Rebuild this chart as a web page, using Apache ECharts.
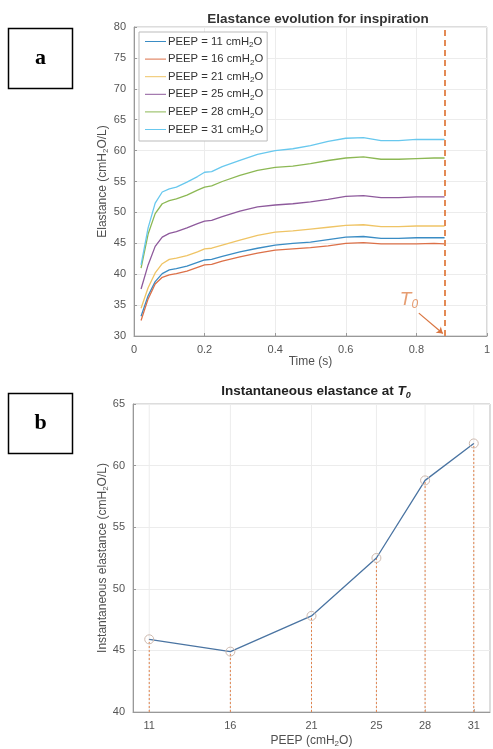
<!DOCTYPE html>
<html><head><meta charset="utf-8">
<script src="https://cdn.jsdelivr.net/npm/echarts@6/dist/echarts.min.js"></script>
<style>html,body{margin:0;padding:0;background:#fff}#c{width:493px;height:749px}</style>
</head><body><div id="c"></div>
<script>
// ---- Data (panel a) ----
const time = [0.02,0.04,0.06,0.08,0.10,0.12,0.15,0.18,0.20,0.22,0.25,0.30,0.35,0.40,0.45,0.50,0.55,0.60,0.65,0.70,0.75,0.80,0.85,0.88];
const peepLabels = ['PEEP = 11 cmH2O','PEEP = 16 cmH2O','PEEP = 21 cmH2O','PEEP = 25 cmH2O','PEEP = 28 cmH2O','PEEP = 31 cmH2O'];
const e11 = [33.2,36.5,38.8,40.1,40.7,40.9,41.3,41.9,42.3,42.4,42.9,43.6,44.2,44.7,45.0,45.2,45.6,46.0,46.1,45.8,45.8,45.9,45.9,45.9];
const e16 = [32.5,36.0,38.4,39.5,39.9,40.1,40.5,41.1,41.5,41.6,42.1,42.8,43.4,43.9,44.1,44.3,44.6,45.0,45.1,44.9,44.9,44.9,45.0,44.9];
const e21 = [34.5,37.8,40.2,41.7,42.4,42.6,43.0,43.6,44.1,44.2,44.7,45.5,46.3,46.8,47.0,47.3,47.6,47.9,48.0,47.7,47.7,47.8,47.8,47.8];
const e25 = [37.6,41.5,44.5,46.0,46.6,46.9,47.5,48.2,48.6,48.7,49.3,50.2,50.9,51.2,51.4,51.7,52.1,52.6,52.7,52.4,52.4,52.5,52.5,52.5];
const e28 = [41.0,46.5,49.8,51.4,51.9,52.2,52.8,53.6,54.1,54.3,55.0,56.0,56.8,57.3,57.5,57.9,58.4,58.8,59.0,58.6,58.6,58.7,58.8,58.8];
const e31 = [41.5,47.5,51.5,53.3,53.8,54.1,54.9,55.8,56.5,56.6,57.4,58.4,59.4,60.0,60.3,60.8,61.5,62.0,62.1,61.6,61.6,61.8,61.8,61.8];
const T0 = 0.88;
const arrowFrom = [0.807, 33.7];
const arrowTo = [0.875, 30.4];
const t0LabelPos = [0.779, 35.8];
// ---- Data (panel b) ----
const peep = [11,16,21,25,28,31];
const elastT0 = [45.9,44.9,47.8,52.5,58.8,61.8];
const yMinB = 40, yMaxB = 65;

const colors = ['#3a8cc4','#dc7048','#efc465','#8e5a9c','#8cb854','#68c8ee'];
const allE = [e11,e16,e21,e25,e28,e31];
const txt = '#505050';
const sub = {fontSize: 8, padding:[7,0,0,0], color: txt};
const axisLbl = {color: '#555', fontSize: 11, fontFamily: 'Liberation Sans'};

const seriesA = allE.map((arr,i)=>({
  name: peepLabels[i], type:'line', xAxisIndex:0, yAxisIndex:0,
  data: time.map((t,k)=>[t,arr[k]]), showSymbol:false, symbol:'none',
  lineStyle:{width:1.3,color:colors[i]}, itemStyle:{color:colors[i]}, z:3
}));
seriesA.push({
  type:'line', xAxisIndex:0, yAxisIndex:0, data:[], silent:true,
  markLine:{symbol:'none', silent:true, label:{show:false},
    lineStyle:{color:'#e38a55', type:[6,4], width:2},
    data:[{xAxis:T0}]}
});
seriesA.push({
  type:'line', xAxisIndex:0, yAxisIndex:0, data:[], silent:true,
  markLine:{symbol:['none','arrow'], symbolSize:6, silent:true, label:{show:false},
    lineStyle:{color:'#d9743f', type:'solid', width:1.2},
    data:[[{coord:arrowFrom},{coord:arrowTo}]]}
});
seriesA.push({
  type:'scatter', xAxisIndex:0, yAxisIndex:0, data:[t0LabelPos], symbolSize:0, silent:true,
  label:{show:true, position:'inside', formatter:'{t|T}{s|0}',
    rich:{t:{fontSize:19, fontStyle:'italic', color:'#e0844f', fontFamily:'Liberation Sans'},
          s:{fontSize:12, fontStyle:'italic', color:'#e0844f', padding:[9,0,0,0], fontFamily:'Liberation Sans'}}}
});

const seriesB = [];
peep.forEach((p,i)=>{
  seriesB.push({type:'line', xAxisIndex:1, yAxisIndex:1, data:[[p,yMinB],[p,yMaxB]], symbol:'none', silent:true, z:1,
    lineStyle:{color:'#ececec', width:1}});
  seriesB.push({type:'line', xAxisIndex:1, yAxisIndex:1, data:[[p,yMinB],[p,elastT0[i]]], symbol:'none', silent:true, z:2,
    lineStyle:{color:'#e0844f', width:1, type:[2,2]}});
});
seriesB.push({
  type:'line', xAxisIndex:1, yAxisIndex:1, data: peep.map((p,i)=>[p,elastT0[i]]),
  symbol:'circle', symbolSize:9, showSymbol:true,
  lineStyle:{color:'#4a74a2', width:1.3},
  itemStyle:{color:'rgba(255,255,255,0)', borderColor:'#cdb9ae', borderWidth:1},
  z:4
});

const chart = echarts.init(document.getElementById('c'), null, {renderer:'canvas'});
chart.setOption({
  animation:false,
  textStyle:{fontFamily:'Liberation Sans'},
  title:[
    {text:'Elastance evolution for inspiration', left:313, top:7, textAlign:'center',
     textStyle:{fontSize:13.5, fontWeight:'bold', color:'#333', fontFamily:'Liberation Sans'}},
    {text:'{a|Instantaneous elastance at }{t|T}{s|0}', left:311, top:378, textAlign:'center',
     textStyle:{rich:{
       a:{fontSize:13.5, fontWeight:'bold', color:'#222', fontFamily:'Liberation Sans'},
       t:{fontSize:13.5, fontWeight:'bold', fontStyle:'italic', color:'#222', fontFamily:'Liberation Sans'},
       s:{fontSize:9, fontWeight:'bold', fontStyle:'italic', color:'#222', padding:[8,0,0,0], fontFamily:'Liberation Sans'}}}}
  ],
  legend:{
    orient:'vertical', left:139, top:32, data:peepLabels,
    backgroundColor:'#fff', borderColor:'#bbb', borderWidth:1,
    padding:[4,4,4,6], itemGap:4.6, itemWidth:21, itemHeight:13,
    icon:'path://M0,6 L21,6 L21,7 L0,7 Z',
    formatter: n => n.replace('cmH2O','cmH{s|2}O'),
    textStyle:{color:'#333', fontSize:11.3, fontFamily:'Liberation Sans', padding:[0,0,0,-3], rich:{s:{fontSize:8, color:'#333', padding:[7,0,0,0]}}}
  },
  grid:[
    {left:134, top:27, width:357, height:309, show:true, borderColor:'#bbb', borderWidth:1},
    {left:133, top:404, width:357, height:308, show:true, borderColor:'#bbb', borderWidth:1}
  ],
  xAxis:[
    {type:'value', gridIndex:0, min:0, max:1, interval:0.2,
     name:'Time (s)', nameLocation:'middle', nameGap:19,
     nameTextStyle:{color:txt, fontSize:12, fontFamily:'Liberation Sans'},
     axisLine:{lineStyle:{color:'#999'}}, axisTick:{inside:true, length:3, lineStyle:{color:'#999'}},
     axisLabel:axisLbl, splitLine:{show:true, lineStyle:{color:'#ececec'}}},
    {type:'value', gridIndex:1, min:10, max:32,
     name:'{a|PEEP (cmH}{s|2}{a|O)}', nameLocation:'middle', nameGap:21,
     nameTextStyle:{rich:{a:{color:txt, fontSize:12, fontFamily:'Liberation Sans'}, s:sub}},
     axisLine:{lineStyle:{color:'#999'}}, axisTick:{inside:true, length:3, customValues:peep, lineStyle:{color:'#999'}},
     axisLabel:Object.assign({customValues:peep}, axisLbl), splitLine:{show:false}}
  ],
  yAxis:[
    {type:'value', gridIndex:0, min:30, max:80, interval:5,
     name:'{a|Elastance (cmH}{s|2}{a|O/L)}', nameLocation:'middle', nameGap:24, nameMoveOverlap:false,
     nameTextStyle:{rich:{a:{color:txt, fontSize:12, fontFamily:'Liberation Sans'}, s:sub}},
     axisLine:{show:true, lineStyle:{color:'#999'}}, axisTick:{show:true, inside:true, length:3, lineStyle:{color:'#999'}},
     axisLabel:axisLbl, splitLine:{show:true, lineStyle:{color:'#ececec'}}},
    {type:'value', gridIndex:1, min:yMinB, max:yMaxB, interval:5,
     name:'{a|Instantaneous elastance (cmH}{s|2}{a|O/L)}', nameLocation:'middle', nameGap:23, nameMoveOverlap:false,
     nameTextStyle:{rich:{a:{color:txt, fontSize:12, fontFamily:'Liberation Sans'}, s:sub}},
     axisLine:{show:true, lineStyle:{color:'#999'}}, axisTick:{show:true, inside:true, length:3, lineStyle:{color:'#999'}},
     axisLabel:axisLbl, splitLine:{show:true, lineStyle:{color:'#ececec'}}}
  ],
  graphic:[
    {type:'rect', shape:{x:8.5, y:28.5, width:64, height:60}, style:{fill:'#fff', stroke:'#000', lineWidth:1.5}},
    {type:'text', x:40.5, y:58.5, style:{text:'a', fill:'#000', font:'bold 22px "Liberation Serif"', align:'center', verticalAlign:'middle'}},
    {type:'rect', shape:{x:8.5, y:393.5, width:64, height:60}, style:{fill:'#fff', stroke:'#000', lineWidth:1.5}},
    {type:'text', x:40.5, y:423.5, style:{text:'b', fill:'#000', font:'bold 22px "Liberation Serif"', align:'center', verticalAlign:'middle'}}
  ],
  series: seriesA.concat(seriesB)
});
</script>
</body></html>
